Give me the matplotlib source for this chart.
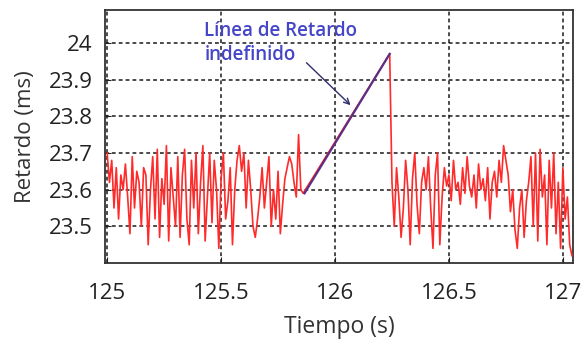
import matplotlib
matplotlib.use("Agg")
import matplotlib.pyplot as plt
import numpy as np

# Delay samples before the undefined-delay interval (t = 125.00 .. 125.86, step 0.01 s)
t_start_1 = 125.00
delay_before = [
    23.70, 23.62, 23.68, 23.55, 23.66, 23.52, 23.64, 23.60, 23.67, 23.58,
    23.48, 23.69, 23.55, 23.65, 23.62, 23.50, 23.66, 23.64, 23.45, 23.60,
    23.69, 23.52, 23.71, 23.47, 23.63, 23.56, 23.72, 23.46, 23.66, 23.58,
    23.50, 23.69, 23.47, 23.64, 23.71, 23.52, 23.45, 23.68, 23.55, 23.70,
    23.48, 23.62, 23.72, 23.46, 23.58, 23.70, 23.51, 23.68, 23.60, 23.44,
    23.63, 23.70, 23.52, 23.57, 23.66, 23.45, 23.60, 23.68, 23.72, 23.65,
    23.70, 23.55, 23.68, 23.60, 23.50, 23.47, 23.52, 23.58, 23.66, 23.55,
    23.62, 23.69, 23.50, 23.60, 23.52, 23.65, 23.48, 23.56, 23.63, 23.66,
    23.69, 23.67, 23.62, 23.58, 23.75, 23.60, 23.59,
]

# Undefined-delay ramp (start and end)
ramp_t = [125.866, 126.24]
ramp_delay = [23.59, 23.97]

# Delay samples after the ramp (t = 126.25 .. 127.04, step 0.01 s)
t_start_2 = 126.25
delay_after = [
    23.62, 23.50, 23.66, 23.58, 23.47, 23.55, 23.68, 23.60, 23.45, 23.63,
    23.70, 23.56, 23.48, 23.62, 23.66, 23.60, 23.69, 23.55, 23.44, 23.64,
    23.70, 23.45, 23.58, 23.66, 23.61, 23.64, 23.57, 23.68, 23.60, 23.62,
    23.56, 23.66, 23.59, 23.69, 23.61, 23.58, 23.64, 23.55, 23.67, 23.60,
    23.63, 23.57, 23.66, 23.52, 23.62, 23.65, 23.58, 23.68, 23.62, 23.72,
    23.68, 23.64, 23.54, 23.60, 23.49, 23.44, 23.55, 23.60, 23.47, 23.57,
    23.62, 23.69, 23.50, 23.70, 23.46, 23.71, 23.58, 23.64, 23.45, 23.68,
    23.55, 23.70, 23.48, 23.62, 23.44, 23.66, 23.52, 23.58, 23.45, 23.42,
]

x_ticks = [125, 125.5, 126, 126.5, 127]
x_tick_labels = ["125", "125.5", "126", "126.5", "127"]
y_ticks = [23.5, 23.6, 23.7, 23.8, 23.9, 24.0]
y_tick_labels = ["23.5", "23.6", "23.7", "23.8", "23.9", "24"]

plt.rcParams["font.family"] = ["Open Sans", "DejaVu Sans"]

t1 = t_start_1 + 0.01 * np.arange(len(delay_before))
t2 = t_start_2 + 0.01 * np.arange(len(delay_after))
t_all = np.concatenate([t1, [ramp_t[1]], t2])
d_all = np.concatenate([delay_before, [ramp_delay[1]], delay_after])

fig = plt.figure(figsize=(5.86, 3.39), dpi=100)
ax = fig.add_axes([0.179, 0.224, 0.799, 0.747])

ax.plot(t_all, d_all, color="#ff2a2a", lw=1.2, zorder=3)
ax.plot(ramp_t, ramp_delay, color="#5b2f86", lw=1.6, zorder=4)

ax.set_xlim(124.99, 127.045)
ax.set_ylim(23.40, 24.09)
ax.set_xticks(x_ticks)
ax.set_xticklabels(x_tick_labels)
ax.set_yticks(y_ticks)
ax.set_yticklabels(y_tick_labels)
ax.tick_params(direction="in", labelsize=16, colors="#222222", length=4)
ax.tick_params(axis="y", pad=9)
ax.tick_params(axis="x", pad=14)

ax.grid(True, color="#1a1a1a", linestyle=(0, (2.5, 2)), lw=1.1, zorder=1)
for s in ax.spines.values():
    s.set_color("#333333")
    s.set_linewidth(1.3)

ax.set_xlabel("Tiempo (s)", fontsize=16.5, color="#333333", labelpad=8)
ax.set_ylabel("Retardo (ms)", fontsize=16, color="#333333", labelpad=9)

ax.text(125.427, 24.06, "Línea de Retardo\nindefinido", color="#4545c8",
        fontsize=13.5, fontweight="semibold", ha="left", va="top",
        linespacing=1.3, zorder=5)
ax.annotate("", xy=(126.077, 23.825), xytext=(125.866, 23.951),
            arrowprops=dict(arrowstyle="->", color="#2e2e6e", lw=1.0),
            zorder=5)

fig.savefig("out.png", dpi=100)
